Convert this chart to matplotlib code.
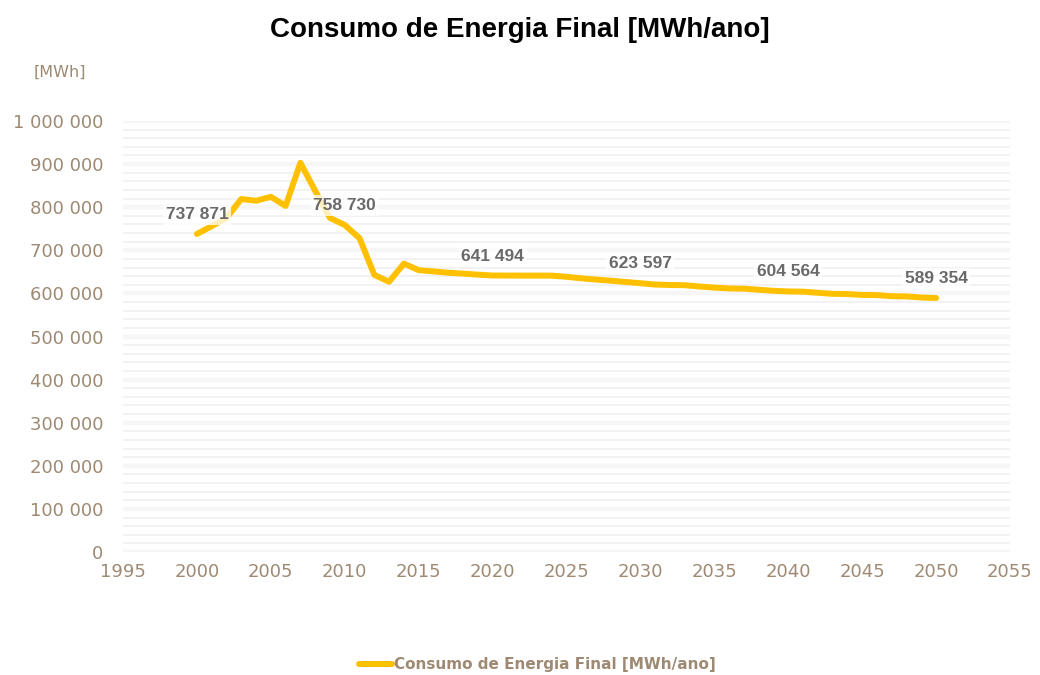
import matplotlib
matplotlib.use("Agg")
import matplotlib.pyplot as plt
from matplotlib.ticker import FuncFormatter, MultipleLocator

years = list(range(2000, 2051))
consumo = [
    737871, 756000, 775000, 819000, 815000, 824000, 803000, 903000, 838000, 775000,
    758730, 728000, 643000, 627000, 669000, 654000, 651000, 648000, 646000, 643500,
    641494, 641400, 641300, 641300, 641200, 638500, 635000, 632000, 629500, 626500,
    623597, 620500, 619500, 619000, 616000, 613500, 611500, 611000, 608500, 606000,
    604564, 604000, 601500, 599000, 598500, 596500, 596000, 593500, 593000, 590500,
    589354,
]
label_years = [2000, 2010, 2020, 2030, 2040, 2050]
x_ticks = [1995, 2000, 2005, 2010, 2015, 2020, 2025, 2030, 2035, 2040, 2045, 2050, 2055]
series_name = "Consumo de Energia Final [MWh/ano]"
title = "Consumo de Energia Final [MWh/ano]"
unit_label = "[MWh]"

tan = "#9E8A73"
yellow = "#FFC000"
label_gray = "#6A6A6A"

fig = plt.figure(figsize=(10.4, 6.75), dpi=100)
ax = fig.add_axes([123/1040, 1 - 552/675, (1010-123)/1040, (552-121)/675])

def fmt(v, pos=None):
    return f"{int(round(v)):,}".replace(",", " ")

# gridlines
for v in range(0, 1000001, 20000):
    if v % 100000 == 0:
        ax.axhline(v, color="#F6F6F6", lw=3.2, zorder=0)
    else:
        ax.axhline(v, color="#EFEFEF", lw=1.1, zorder=0)

ax.plot(years, consumo, color=yellow, lw=4.3, solid_capstyle="round",
        solid_joinstyle="round", zorder=3, label=series_name)

for yr in label_years:
    val = consumo[years.index(yr)]
    ax.annotate(fmt(val), (yr, val), xytext=(0, 14), textcoords="offset points",
                ha="center", va="center", fontsize=12.5, fontweight="bold",
                family="Liberation Sans", color=label_gray, zorder=4,
                bbox=dict(boxstyle="square,pad=0.15", fc="white", ec="none", alpha=0.75))

ax.set_xlim(1995, 2055)
ax.set_ylim(0, 1000000)
ax.set_xticks(x_ticks)
ax.yaxis.set_major_locator(MultipleLocator(100000))
ax.yaxis.set_major_formatter(FuncFormatter(fmt))
for s in ax.spines.values():
    s.set_visible(False)
ax.tick_params(axis="both", length=0, colors=tan, labelsize=13)
ax.tick_params(axis="y", pad=14)
ax.tick_params(axis="x", pad=8)

fig.text(0.5, 1 - 30/675, title, ha="center", va="center", fontsize=20,
         fontweight="bold", family="Liberation Sans", color="black")
fig.text(60/1040, 1 - 72/675, unit_label, ha="center", va="center", fontsize=11.5,
         color=tan)

leg = fig.legend(loc="center", bbox_to_anchor=(537/1040, 1 - 665/675), frameon=False,
                 handlelength=2.2, handletextpad=0.1, prop=dict(size=11, weight="bold"))
for t in leg.get_texts():
    t.set_color(tan)

fig.savefig("out.png", dpi=100)
